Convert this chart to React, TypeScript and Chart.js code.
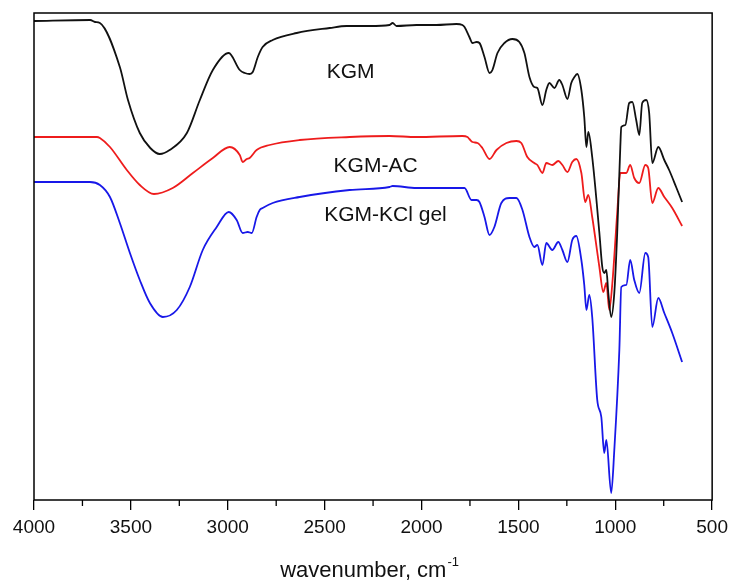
import React, { useEffect, useRef } from "react";
import { Chart, registerables } from "chart.js";

Chart.register(...registerables);

// KGM (black)
const kgmWn = [4000, 3710, 3685, 3660, 3557, 3515, 3454, 3400, 3351, 3300, 3211, 3144, 3077, 2995, 2938, 2912, 2887, 2871, 2845, 2820, 2768, 2644, 2474, 2387, 2268, 2165, 2149, 2129, 2026, 1923, 1820, 1789, 1778, 1753, 1737, 1716, 1701, 1675, 1649, 1634, 1608, 1572, 1531, 1495, 1469, 1443, 1418, 1402, 1376, 1356, 1340, 1314, 1289, 1273, 1247, 1227, 1211, 1196, 1175, 1160, 1149, 1139, 1119, 1082, 1067, 1057, 1046, 1036, 1021, 1005, 990, 974, 969, 948, 928, 912, 892, 876, 861, 840, 825, 809, 778, 747, 722, 686, 655];
const kgmT = [479, 480, 478, 477, 433, 400, 367, 352, 346, 350, 367, 400, 430, 447, 430, 427, 426, 428, 443, 453, 460, 467, 472, 474, 474, 475, 477, 474, 475, 475, 476, 475, 473, 463, 457, 458, 457, 443, 427, 430, 447, 457, 461, 458, 447, 423, 413, 412, 395, 410, 417, 412, 420, 415, 401, 417, 423, 426, 410, 383, 353, 368, 343, 267, 233, 227, 230, 207, 183, 207, 267, 353, 373, 375, 397, 398, 380, 365, 397, 400, 387, 337, 353, 340, 330, 313, 298];

// KGM-AC (red)
const acWn = [4000, 3675, 3660, 3608, 3521, 3454, 3381, 3284, 3180, 3077, 2990, 2938, 2923, 2902, 2887, 2851, 2784, 2629, 2371, 2165, 2026, 1789, 1763, 1753, 1737, 1711, 1686, 1649, 1613, 1562, 1510, 1485, 1454, 1418, 1402, 1376, 1356, 1325, 1294, 1273, 1247, 1222, 1201, 1175, 1155, 1139, 1119, 1082, 1062, 1046, 1031, 1015, 990, 974, 943, 923, 902, 876, 845, 830, 809, 778, 747, 706, 655];
const acT = [363, 363, 362, 353, 330, 315, 306, 312, 327, 342, 353, 345, 338, 341, 342, 350, 355, 360, 363, 364, 363, 364, 363, 361, 358, 357, 352, 341, 350, 357, 359, 357, 343, 337, 335, 327, 337, 335, 339, 335, 328, 338, 341, 327, 298, 305, 283, 233, 208, 217, 190, 217, 287, 327, 327, 335, 322, 317, 335, 332, 297, 312, 303, 292, 274];

// KGM-KCl gel (blue)
const gelWn = [4000, 3711, 3660, 3608, 3557, 3505, 3454, 3402, 3335, 3263, 3196, 3129, 3057, 2995, 2954, 2923, 2897, 2876, 2851, 2835, 2820, 2768, 2629, 2371, 2165, 2149, 2026, 1907, 1778, 1742, 1716, 1701, 1675, 1649, 1624, 1588, 1546, 1510, 1479, 1443, 1418, 1402, 1376, 1356, 1325, 1294, 1273, 1247, 1222, 1201, 1175, 1160, 1149, 1134, 1119, 1093, 1072, 1057, 1046, 1021, 1005, 979, 969, 943, 923, 902, 876, 845, 830, 809, 778, 747, 706, 655];
const gelT = [318, 318, 315, 303, 277, 247, 220, 197, 183, 190, 213, 250, 273, 288, 280, 267, 268, 267, 283, 290, 292, 297, 303, 310, 313, 314, 312, 312, 312, 300, 300, 298, 283, 265, 273, 297, 302, 302, 290, 263, 253, 255, 235, 257, 250, 258, 250, 238, 260, 264, 240, 215, 190, 205, 183, 100, 83, 47, 60, 7, 50, 150, 213, 215, 240, 220, 207, 247, 243, 173, 202, 187, 167, 138];

const seriesNames = ["KGM", "KGM-AC", "KGM-KCl gel"];
const seriesColors = ["#111111", "#ee1c1c", "#1818e8"];
// label anchor positions in data coordinates (wavenumber, value)
const labelWn = [2366, 2237, 2186];
const labelT = [428, 334, 285];

const xTicks = [4000, 3500, 3000, 2500, 2000, 1500, 1000, 500];
const xMinorTicks = [3750, 3250, 2750, 2250, 1750, 1250, 750];

const FONT = "'Liberation Sans', Arial, Helvetica, sans-serif";

const toPoints = (wn: number[], t: number[]) => wn.map((w, i) => ({ x: w, y: t[i] }));

const decorPlugin = {
  id: "decor",
  afterDatasetsDraw(chart: any) {
    const { ctx, chartArea, scales } = chart;
    const xs = scales.x;
    const ys = scales.y;
    ctx.save();
    // frame
    ctx.strokeStyle = "#000";
    ctx.lineWidth = 1.5;
    ctx.strokeRect(chartArea.left, chartArea.top, chartArea.right - chartArea.left, chartArea.bottom - chartArea.top);
    // minor ticks
    ctx.lineWidth = 1.3;
    xMinorTicks.forEach((w) => {
      const px = xs.getPixelForValue(w);
      ctx.beginPath();
      ctx.moveTo(px, chartArea.bottom);
      ctx.lineTo(px, chartArea.bottom + 6);
      ctx.stroke();
    });
    // series labels
    ctx.fillStyle = "#111";
    ctx.font = `21px ${FONT}`;
    ctx.textAlign = "center";
    ctx.textBaseline = "middle";
    seriesNames.forEach((n, i) => {
      ctx.fillText(n, xs.getPixelForValue(labelWn[i]), ys.getPixelForValue(labelT[i]));
    });
    // axis title with superscript
    const main = "wavenumber, cm";
    const sup = "-1";
    ctx.font = `22px ${FONT}`;
    const wMain = ctx.measureText(main).width;
    ctx.font = `13px ${FONT}`;
    const wSup = ctx.measureText(sup).width;
    const cx = (chartArea.left + chartArea.right) / 2 - 4;
    const startX = cx - (wMain + wSup) / 2;
    const baseY = chartArea.bottom + 77;
    ctx.textAlign = "left";
    ctx.textBaseline = "alphabetic";
    ctx.font = `22px ${FONT}`;
    ctx.fillText(main, startX, baseY);
    ctx.font = `13px ${FONT}`;
    ctx.fillText(sup, startX + wMain + 1, baseY - 11);
    ctx.restore();
  },
};

export default function App() {
  const ref = useRef<HTMLCanvasElement>(null);
  useEffect(() => {
    if (!ref.current) return;
    const wns = [kgmWn, acWn, gelWn];
    const ts = [kgmT, acT, gelT];
    const chart = new Chart(ref.current, {
      type: "line",
      data: {
        datasets: seriesNames.map((n, i) => ({
          label: n,
          data: toPoints(wns[i], ts[i]),
          borderColor: seriesColors[i],
          borderWidth: 1.8,
          pointRadius: 0,
          fill: false,
          cubicInterpolationMode: "monotone" as const,
        })),
      },
      options: {
        animation: false,
        responsive: false,
        layout: { padding: { left: 34, right: 21, top: 13, bottom: 0 } },
        plugins: { legend: { display: false }, tooltip: { enabled: false } },
        scales: {
          x: {
            type: "linear",
            reverse: true,
            min: 500,
            max: 4000,
            afterFit: (s: any) => {
              s.height = 84;
            },
            afterBuildTicks: (s: any) => {
              s.ticks = xTicks.map((v) => ({ value: v }));
            },
            border: { display: false },
            grid: {
              drawOnChartArea: false,
              drawTicks: true,
              tickLength: 10,
              color: "#000",
              lineWidth: 1.3,
            },
            ticks: {
              color: "#111",
              padding: 6,
              maxRotation: 0,
              font: { family: FONT, size: 19 },
              callback: (v: any) => String(v),
            },
          },
          y: {
            display: false,
            min: 0,
            max: 487,
          },
        },
      },
      plugins: [decorPlugin],
    });
    return () => chart.destroy();
  }, []);
  return (
    <div style={{ position: "absolute", left: 0, top: 0, width: 734, height: 584, background: "#fff" }}>
      <canvas ref={ref} width={734} height={584} style={{ display: "block" }} />
    </div>
  );
}
